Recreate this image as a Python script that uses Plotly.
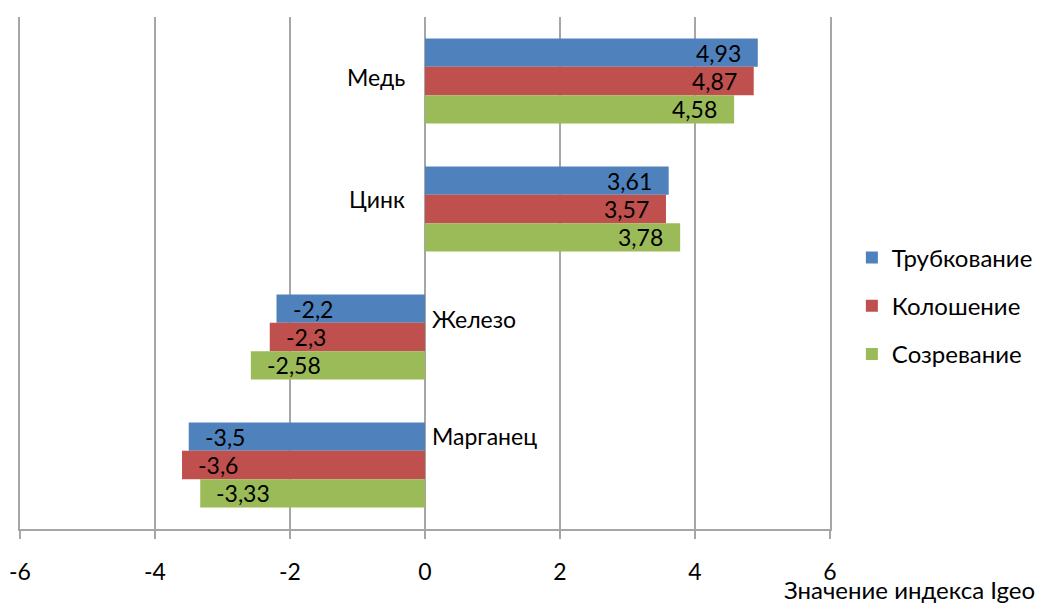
import plotly.graph_objects as go

# Igeo index values by element and growth stage
elements = ["Медь", "Цинк", "Железо", "Марганец"]
stages = ["Трубкование", "Колошение", "Созревание"]
tubing = [4.93, 3.61, -2.2, -3.5]
heading = [4.87, 3.57, -2.3, -3.6]
ripening = [4.58, 3.78, -2.58, -3.33]
x_ticks = [-6, -4, -2, 0, 2, 4, 6]

series = [tubing, heading, ripening]
colors = ["#4F81BD", "#C0504D", "#9BBB59"]
FONT = "Lato"
FS = 24
GRID = "#A6A6A6"
BARGAP = 0.336


def fmt(v):
    return f"{v:g}".replace(".", ",")


fig = go.Figure()
for i, (name, vals, col) in enumerate(zip(stages, series, colors)):
    fig.add_trace(go.Bar(
        y=elements, x=vals, name=name, orientation="h",
        marker=dict(color=col, line=dict(width=0)),
        legendgroup=name,
        offsetgroup=str(i),
    ))

# value labels just inside the outer end of each bar
annotations = []
n = len(stages)
for i, vals in enumerate(series):
    for j, v in enumerate(vals):
        off = (i - (n - 1) / 2) * (1 - BARGAP) / n
        annotations.append(dict(
            x=v, y=j + off, xref="x", yref="y",
            text=fmt(v), showarrow=False,
            xanchor="right" if v > 0 else "left",
            xshift=-15 if v > 0 else 14,
            font=dict(family=FONT, size=FS - 1, color="black"),
        ))

# category names placed beside the zero line
label_shift = [4, 10, 18, 29]
for j, (el, lift) in enumerate(zip(elements, label_shift)):
    pos = tubing[j] > 0
    annotations.append(dict(
        x=0, y=j, xref="x", yref="y", text=el, showarrow=False,
        xanchor="right" if pos else "left",
        xshift=-18 if pos else 5, yshift=lift,
        font=dict(family=FONT, size=FS - 1, color="black"),
    ))

# axis title in the lower right corner
annotations.append(dict(
    x=1.2557, y=-0.118, xref="paper", yref="paper",
    text="Значение индекса Igeo", showarrow=False,
    xanchor="right", yanchor="middle",
    font=dict(family=FONT, size=FS, color="black"),
))

fig.update_layout(
    width=1040, height=604,
    margin=dict(l=20, r=210, t=17, b=75, autoexpand=False),
    paper_bgcolor="white", plot_bgcolor="white",
    barmode="group", bargap=BARGAP, bargroupgap=0,
    font=dict(family=FONT, size=FS, color="black"),
    showlegend=True,
    legend=dict(
        x=1.027, y=0.4355, xanchor="left", yanchor="middle",
        font=dict(family=FONT, size=FS, color="black"),
        tracegroupgap=14, traceorder="grouped",
        itemwidth=30,
    ),
    annotations=annotations,
)
fig.update_xaxes(
    range=[-6, 6], tickvals=x_ticks,
    ticktext=[str(t) for t in x_ticks],
    showgrid=True, gridcolor=GRID, gridwidth=2,
    zeroline=True, zerolinecolor=GRID, zerolinewidth=2,
    showline=True, linecolor=GRID, linewidth=2,
    ticks="outside", ticklen=8, tickcolor=GRID, tickwidth=2,
    ticklabelstandoff=13,
    tickfont=dict(family=FONT, size=FS - 1, color="black"),
)
fig.update_yaxes(
    autorange="reversed", showticklabels=False,
    showgrid=False, zeroline=False,
    showline=True, mirror=True, linecolor=GRID, linewidth=2,
)

fig.write_html("out.html")
